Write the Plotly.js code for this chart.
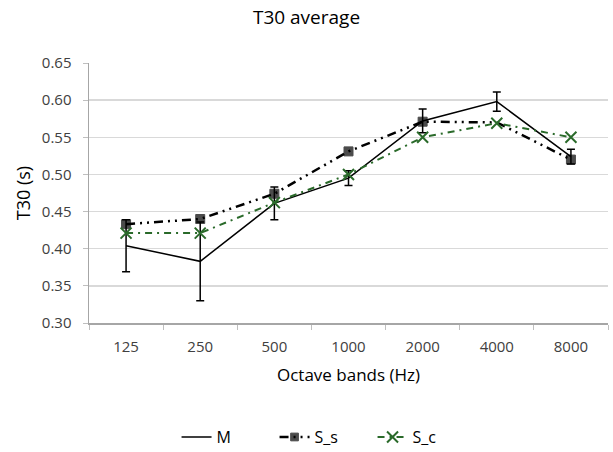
<!DOCTYPE html>
<html>
<head>
<meta charset="utf-8">
<script src="https://cdn.plot.ly/plotly-3.0.1.min.js"></script>
<style>html,body{margin:0;padding:0;background:#fff}#chart{width:613px;height:452px}</style>
</head>
<body>
<div id="chart"></div>
<script>
var bands = ["125", "250", "500", "1000", "2000", "4000", "8000"];
var M = [0.404, 0.383, 0.461, 0.495, 0.572, 0.598, 0.524];
var M_err = [0.035, 0.053, 0.022, 0.010, 0.016, 0.013, 0.010];
var S_s = [0.433, 0.440, 0.474, 0.531, 0.571, 0.570, 0.520];
var S_c = [0.421, 0.421, 0.462, 0.500, 0.550, 0.569, 0.550];
var yTicks = [0.30, 0.35, 0.40, 0.45, 0.50, 0.55, 0.60, 0.65];

var font = "'Open Sans', 'Noto Sans', sans-serif";
var traces = [
  {x: bands, y: M, name: "M", type: "scatter", mode: "lines",
   line: {color: "#000000", width: 1.5},
   error_y: {type: "data", array: M_err, visible: true, color: "#000000", thickness: 1.5, width: 4}},
  {x: bands, y: S_s, name: "S_s", type: "scatter", mode: "lines+markers",
   line: {color: "#000000", width: 2.5, dash: "9px,5px,2px,5px,2px,5px"},
   marker: {symbol: "square", size: [9, 9, 9, 9, 9, 0, 9], color: "#000000", line: {color: "#000000", width: 1}}},
  {x: bands, y: S_c, name: "S_c", type: "scatter", mode: "lines+markers",
   line: {color: "#2a6a2a", width: 2, dash: "7px,5px,2px,5px"},
   marker: {symbol: "x-thin-open", size: 11, color: "#2a6a2a", line: {color: "#2a6a2a", width: 2}}}
];

var layout = {
  width: 613, height: 452,
  margin: {l: 89, r: 5, t: 63, b: 129},
  paper_bgcolor: "#ffffff", plot_bgcolor: "#ffffff",
  font: {family: font, color: "#595959", size: 15},
  title: {text: "T30 average", x: 0.5, xanchor: "center", y: 0.962, yanchor: "middle",
          font: {family: font, size: 19, color: "#000000"}},
  xaxis: {type: "category", range: [-0.5, 6.5], tickson: "boundaries", automargin: false,
          ticks: "outside", ticklen: 5, tickcolor: "#bfbfbf", ticklabelstandoff: 9,
          showline: true, linecolor: "#a6a6a6", linewidth: 1.5, showgrid: false, zeroline: false,
          tickfont: {size: 15, color: "#404040"},
          title: {text: "Octave bands (Hz)", font: {size: 17, color: "#000000"}, standoff: 14}},
  yaxis: {range: [0.30, 0.65], tickvals: yTicks, tickformat: ".2f", automargin: false,
          ticks: "outside", ticklen: 5, tickcolor: "#bfbfbf", ticklabelstandoff: 8,
          showline: true, linecolor: "#a6a6a6", linewidth: 1.5,
          showgrid: true, gridcolor: "#d9d9d9", gridwidth: 1.5, zeroline: false,
          tickfont: {size: 15, color: "#404040"},
          title: {text: "T30 (s)", font: {size: 18, color: "#000000"}, standoff: 6}},
  showlegend: true,
  legend: {orientation: "h", xref: "container", x: 0.288, xanchor: "left",
           yref: "container", y: 0.033, yanchor: "middle",
           entrywidth: 53, entrywidthmode: "pixels",
           font: {size: 16, color: "#000000"}}
};

Plotly.newPlot("chart", traces, layout, {displayModeBar: false, staticPlot: true});
</script>
</body>
</html>
